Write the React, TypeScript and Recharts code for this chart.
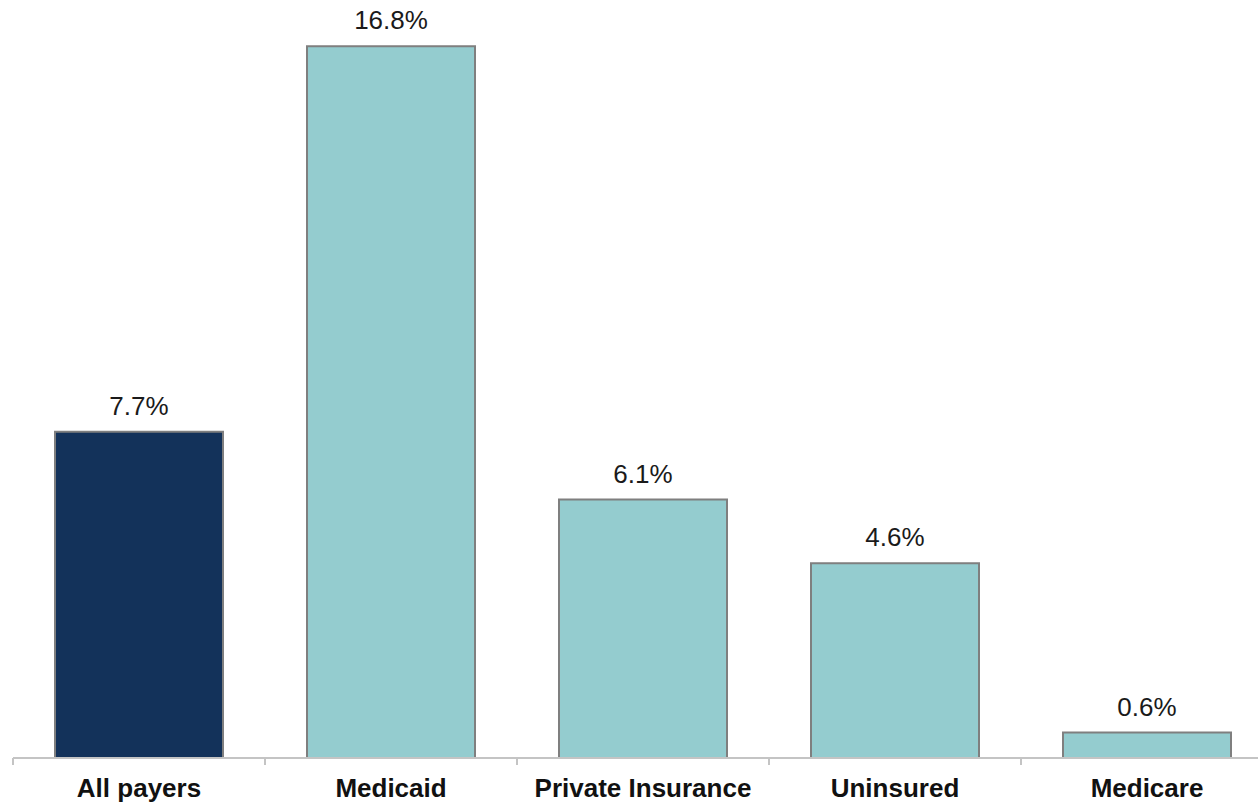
import { BarChart, Bar, XAxis, YAxis, Cell, LabelList } from 'recharts';

// Share by payer (percent)
const categories = ['All payers', 'Medicaid', 'Private Insurance', 'Uninsured', 'Medicare'];
const values = [7.7, 16.8, 6.1, 4.6, 0.6];
const barColors = ['#13325a', '#94cccf', '#94cccf', '#94cccf', '#94cccf'];

const FONT = '"Liberation Sans", Arial, sans-serif';
const CHART_W = 1280;
const CHART_H = 803;
const MARGIN = { top: 4, right: 7, left: 13, bottom: 0 };
const BAND = (CHART_W - MARGIN.left - MARGIN.right) / categories.length;

const chartData = categories.map((name, i) => ({ name, value: values[i], color: barColors[i] }));

const CategoryTick = (props: any) => {
  const { x, y, payload, index } = props;
  const half = BAND / 2;
  return (
    <g>
      <line x1={x - half} x2={x - half} y1={y} y2={y + 7} stroke="#c4c4c4" strokeWidth={2} />
      {index === categories.length - 1 && (
        <line x1={x + half} x2={x + half} y1={y} y2={y + 7} stroke="#c4c4c4" strokeWidth={2} />
      )}
      <text
        x={x}
        y={y + 39}
        textAnchor="middle"
        fill="#111"
        fontFamily={FONT}
        fontWeight="bold"
        fontSize={26}
      >
        {payload.value}
      </text>
    </g>
  );
};

const renderValueLabel = (props: any) => {
  const { x, y, width, value } = props;
  return (
    <text
      x={x + width / 2}
      y={y - 17}
      textAnchor="middle"
      fill="#1a1a1a"
      fontFamily={FONT}
      fontSize={26}
    >
      {Number(value).toFixed(1)}%
    </text>
  );
};

export default function App() {
  return (
    <div
      style={{
        position: 'absolute',
        left: 0,
        top: 0,
        width: 1258,
        height: 803,
        overflow: 'hidden',
        background: '#fff',
      }}
    >
      <BarChart width={CHART_W} height={CHART_H} data={chartData} margin={MARGIN}>
        <XAxis
          dataKey="name"
          height={45}
          axisLine={{ stroke: '#c4c4c4', strokeWidth: 2 }}
          tickLine={false}
          tickSize={0}
          tickMargin={0}
          interval={0}
          tick={<CategoryTick />}
        />
        <YAxis hide domain={[0, 17.8]} />
        <Bar dataKey="value" barSize={168} stroke="#7f7f7f" strokeWidth={2} isAnimationActive={false}>
          {chartData.map((d, i) => (
            <Cell key={`cell-${i}`} fill={d.color} />
          ))}
          <LabelList dataKey="value" content={renderValueLabel} />
        </Bar>
      </BarChart>
    </div>
  );
}
